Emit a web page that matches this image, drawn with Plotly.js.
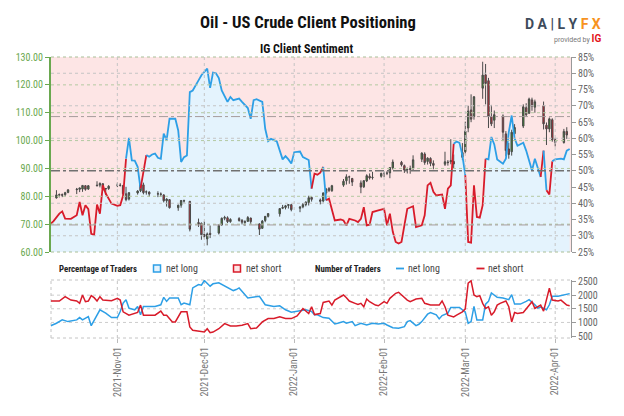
<!DOCTYPE html>
<html><head><meta charset="utf-8">
<script src="https://cdn.plot.ly/plotly-3.0.1.min.js"></script>
<style>html,body{margin:0;padding:0;background:#fff}#chart{width:624px;height:416px}</style>
</head><body><div id="chart"></div>
<script>
// ---------- DATA ----------
const candleDates = [
'2021-10-11','2021-10-12','2021-10-13','2021-10-14','2021-10-15',
'2021-10-18','2021-10-19','2021-10-20','2021-10-21','2021-10-22',
'2021-10-25','2021-10-26','2021-10-27','2021-10-28','2021-10-29',
'2021-11-01','2021-11-02','2021-11-03','2021-11-04','2021-11-05',
'2021-11-08','2021-11-09','2021-11-10','2021-11-11','2021-11-12',
'2021-11-15','2021-11-16','2021-11-17','2021-11-18','2021-11-19',
'2021-11-22','2021-11-23','2021-11-24','2021-11-26',
'2021-11-29','2021-11-30','2021-12-01','2021-12-02','2021-12-03',
'2021-12-06','2021-12-07','2021-12-08','2021-12-09','2021-12-10',
'2021-12-13','2021-12-14','2021-12-15','2021-12-16','2021-12-17',
'2021-12-20','2021-12-21','2021-12-22','2021-12-23',
'2021-12-27','2021-12-28','2021-12-29','2021-12-30','2021-12-31',
'2022-01-03','2022-01-04','2022-01-05','2022-01-06','2022-01-07',
'2022-01-10','2022-01-11','2022-01-12','2022-01-13','2022-01-14',
'2022-01-18','2022-01-19','2022-01-20','2022-01-21',
'2022-01-24','2022-01-25','2022-01-26','2022-01-27','2022-01-28',
'2022-01-31','2022-02-01','2022-02-02','2022-02-03','2022-02-04',
'2022-02-07','2022-02-08','2022-02-09','2022-02-10','2022-02-11',
'2022-02-14','2022-02-15','2022-02-16','2022-02-17','2022-02-18',
'2022-02-22','2022-02-23','2022-02-24','2022-02-25',
'2022-02-28','2022-03-01','2022-03-02','2022-03-03','2022-03-04',
'2022-03-07','2022-03-08','2022-03-09','2022-03-10','2022-03-11',
'2022-03-14','2022-03-15','2022-03-16','2022-03-17','2022-03-18',
'2022-03-21','2022-03-22','2022-03-23','2022-03-24','2022-03-25',
'2022-03-28','2022-03-29','2022-03-30','2022-03-31','2022-04-01',
'2022-04-04','2022-04-05'];
const candleOpen = [
79.4,80.4,80.6,80.6,81.4, 82.6,82.5,82.6,83.8,82.6, 84.0,84.0,84.5,82.6,82.8,
84.0,84.0,83.9,80.9,79.0, 81.2,82.0,84.1,81.5,81.5, 80.8,80.7,80.5,78.4,78.8, 75.9,76.8,78.3,78.2,
70.6,70.3,66.3,64.7,66.7, 66.8,69.7,72.1,72.3,70.9, 72.0,71.4,70.6,71.0,72.2, 70.1,68.5,71.3,72.8, 73.7,75.7,76.0,76.7,77.0,
75.7,76.2,77.0,77.7,79.6, 78.7,78.3,81.2,82.8,82.0, 84.0,85.6,87.0,86.4, 84.8,83.4,85.5,87.2,86.7,
87.2,88.2,88.3,88.4,90.2, 92.2,91.0,89.5,89.6,90.0, 93.3,95.2,92.5,93.6,91.8, 91.5,92.3,92.4,92.5,
94.0,96.0,104.5,111.0,108.6, 118.8,123.6,121.5,108.6,107.3, 108.8,102.4,97.0,96.0,102.5, 105.2,111.8,109.8,114.6,112.0, 112.5,105.5,104.2,107.5,100.3,
99.3,103.3];
const candleHigh = [
82.2,81.0,81.0,81.6,82.6, 83.0,83.1,83.9,84.0,84.0, 85.4,85.0,84.7,83.0,84.0,
84.9,84.7,84.0,83.4,81.5, 82.2,84.4,84.9,82.1,81.8, 81.8,81.4,80.7,79.3,79.0, 77.0,78.6,78.8,78.3,
72.0,70.6,71.0,67.0,69.5, 70.0,72.4,73.0,72.8,72.1, 72.5,71.8,71.4,72.9,72.3, 70.3,71.5,72.8,73.9, 75.8,76.9,76.9,77.1,77.1,
76.5,77.6,78.2,80.2,80.0, 79.2,81.4,83.0,83.3,84.1, 86.2,87.9,87.4,86.6, 85.7,85.8,87.9,88.2,88.8,
88.5,88.9,89.0,90.4,93.2, 92.7,91.4,90.3,91.0,94.7, 95.8,95.8,94.0,94.0,92.9, 96.0,93.0,100.5,95.0,
99.1,106.8,112.5,116.6,116.0, 128.3,127.5,122.5,112.8,110.8, 109.4,103.4,99.2,103.9,105.9, 113.0,113.4,115.4,115.4,114.7, 114.0,106.5,108.3,108.0,101.0,
104.2,104.8];
const candleLow = [
79.2,79.6,79.7,80.0,81.1, 80.8,81.5,81.6,82.0,82.3, 83.6,83.2,82.0,80.5,82.3,
83.3,83.5,80.1,78.2,78.5, 80.6,81.5,80.7,80.6,79.8, 79.7,79.8,77.8,76.3,75.6, 74.8,75.9,77.7,67.4,
69.0,64.4,64.9,62.4,65.0, 66.3,69.4,71.4,70.4,70.5, 70.9,69.9,69.4,70.9,70.1, 66.1,68.3,70.7,72.4, 72.7,75.4,75.3,75.6,74.6,
74.3,75.7,76.4,76.7,78.1, 77.1,77.8,80.6,81.5,81.6, 83.4,84.2,84.5,83.7, 81.1,83.0,85.1,86.0,86.0,
86.7,86.9,87.6,86.5,89.6, 90.7,88.4,88.2,88.1,89.4, 92.3,91.3,91.4,90.8,89.7, 90.9,91.0,91.5,90.1,
93.0,95.3,103.0,106.6,107.5, 115.0,113.0,104.5,105.2,104.5, 99.8,94.4,93.5,94.6,101.8, 104.5,108.6,109.6,110.7,110.0, 104.0,98.4,103.0,99.6,97.9,
98.9,100.6];
const candleClose = [
80.5,80.6,80.4,81.3,82.3, 82.4,83.0,83.9,82.5,83.8, 83.8,84.6,82.7,82.8,83.6,
84.0,83.9,80.9,78.8,81.3, 81.9,84.2,81.3,81.6,80.8, 80.9,80.8,78.4,79.0,75.9, 76.8,78.5,78.4,68.2,
70.0,66.2,65.6,66.5,66.3, 69.5,72.1,72.4,70.9,71.7, 71.3,70.7,70.9,72.4,70.9, 68.2,71.1,72.8,73.8, 75.6,76.0,76.6,77.0,75.2,
76.1,77.0,77.9,79.5,78.9, 78.2,81.2,82.6,82.1,83.8, 85.4,87.0,86.9,85.1, 83.3,85.6,87.4,86.6,86.8,
88.2,88.2,88.3,90.3,92.3, 91.3,89.4,89.7,89.9,93.1, 95.5,92.1,93.7,91.8,91.1, 92.4,92.1,92.8,91.6,
95.7,103.4,110.6,107.7,115.7, 123.5,120.5,108.7,106.0,109.3, 103.0,96.4,95.0,103.0,104.7, 112.1,109.3,114.9,112.3,113.9, 106.0,104.2,107.8,100.3,99.3,
103.3,102.0];

// % of clients net long
const sentDates = [
'2021-10-09','2021-10-10','2021-10-12','2021-10-13','2021-10-14','2021-10-16','2021-10-18','2021-10-19','2021-10-20','2021-10-21',
'2021-10-22','2021-10-23','2021-10-24','2021-10-25','2021-10-26','2021-10-27','2021-10-28','2021-10-30','2021-11-01','2021-11-02',
'2021-11-03','2021-11-04','2021-11-05','2021-11-06','2021-11-07','2021-11-08','2021-11-09','2021-11-11','2021-11-12','2021-11-13',
'2021-11-14','2021-11-15','2021-11-16','2021-11-17','2021-11-18','2021-11-19','2021-11-21','2021-11-22','2021-11-23','2021-11-24',
'2021-11-25','2021-11-26','2021-11-27','2021-11-29','2021-11-30','2021-12-02','2021-12-03','2021-12-04','2021-12-05','2021-12-06',
'2021-12-07','2021-12-09','2021-12-10','2021-12-11','2021-12-13','2021-12-14','2021-12-16','2021-12-17','2021-12-18','2021-12-19',
'2021-12-21','2021-12-22','2021-12-23','2021-12-24','2021-12-26','2021-12-28','2021-12-29','2021-12-30','2021-12-31','2022-01-01',
'2022-01-03','2022-01-04','2022-01-06','2022-01-07','2022-01-08','2022-01-09','2022-01-10','2022-01-11','2022-01-12','2022-01-13',
'2022-01-15','2022-01-17','2022-01-18','2022-01-19','2022-01-20','2022-01-22','2022-01-23','2022-01-24','2022-01-25','2022-01-26',
'2022-01-27','2022-01-28','2022-01-30','2022-02-01','2022-02-02','2022-02-03','2022-02-04','2022-02-05','2022-02-06','2022-02-07',
'2022-02-09','2022-02-11','2022-02-12','2022-02-14','2022-02-15','2022-02-16','2022-02-17','2022-02-18','2022-02-19','2022-02-21',
'2022-02-22','2022-02-23','2022-02-24','2022-02-25','2022-02-26','2022-02-27','2022-02-28','2022-03-01','2022-03-02','2022-03-03',
'2022-03-04','2022-03-05','2022-03-06','2022-03-07','2022-03-08','2022-03-09','2022-03-10','2022-03-11','2022-03-12','2022-03-13',
'2022-03-14','2022-03-15','2022-03-16','2022-03-17','2022-03-18','2022-03-19','2022-03-21','2022-03-22','2022-03-24','2022-03-25',
'2022-03-26','2022-03-27','2022-03-28','2022-03-29','2022-03-30','2022-03-31','2022-04-01','2022-04-03','2022-04-04','2022-04-05',
'2022-04-06'];
const sentLong = [
33.7,34.5,36.8,37.5,35.3,35.2,36.3,40.4,36.3,39.4,
38.2,30.6,30.3,39.6,36.8,45.5,43.0,39.9,39.2,39.4,
42.4,53.7,60.1,53.2,53.1,51.2,44.5,54.8,54.3,55.0,
55.3,54.0,53.7,61.4,59.4,66.0,66.0,62.4,52.7,54.2,
54.7,74.2,74.7,77.8,79.4,81.4,75.5,80.2,80.0,78.5,
74.7,71.2,72.7,71.7,72.2,71.2,69.3,66.0,71.7,72.0,
71.2,62.9,59.1,59.8,59.0,53.5,54.5,53.5,52.2,55.7,
55.9,54.2,53.3,44.5,49.1,48.8,49.4,51.2,40.9,41.4,
34.7,35.0,34.7,33.2,35.2,34.7,34.2,35.2,38.8,33.2,
33.4,37.3,37.8,38.3,33.2,36.8,31.2,28.1,27.6,28.1,
38.3,39.1,32.7,33.2,36.3,45.5,46.3,43.5,42.4,42.7,
38.3,44.5,45.5,58.3,59.0,58.6,54.8,48.6,28.1,27.9,
45.5,35.8,35.6,39.4,53.7,53.5,60.4,58.1,53.5,52.9,
52.2,53.7,61.9,67.0,60.0,57.7,58.6,56.2,50.1,53.7,
50.6,48.1,56.2,44.0,42.7,52.9,53.5,53.7,53.5,56.2,
56.7];

// number of traders
const longDates = [
'2021-10-09','2021-10-11','2021-10-13','2021-10-15','2021-10-18','2021-10-19','2021-10-20','2021-10-22','2021-10-23','2021-10-24',
'2021-10-26','2021-10-28','2021-10-30','2021-11-01','2021-11-02','2021-11-03','2021-11-04','2021-11-05','2021-11-07','2021-11-08',
'2021-11-09','2021-11-10','2021-11-14','2021-11-16','2021-11-17','2021-11-18','2021-11-19','2021-11-22','2021-11-23','2021-11-24',
'2021-11-26','2021-11-27','2021-11-29','2021-11-30','2021-12-01','2021-12-03','2021-12-04','2021-12-06','2021-12-08','2021-12-11',
'2021-12-12','2021-12-13','2021-12-16','2021-12-19','2021-12-20','2021-12-22','2021-12-25','2021-12-27','2021-12-29','2021-12-31',
'2022-01-03','2022-01-05','2022-01-07','2022-01-08','2022-01-09','2022-01-11','2022-01-13','2022-01-15','2022-01-16','2022-01-18',
'2022-01-19','2022-01-21','2022-01-22','2022-01-24','2022-01-26','2022-01-28','2022-01-30','2022-02-01','2022-02-02','2022-02-04',
'2022-02-06','2022-02-08','2022-02-09','2022-02-10','2022-02-12','2022-02-13','2022-02-14','2022-02-16','2022-02-17','2022-02-19',
'2022-02-20','2022-02-21','2022-02-23','2022-02-24','2022-02-27','2022-03-01','2022-03-02','2022-03-03','2022-03-04','2022-03-05',
'2022-03-07','2022-03-08','2022-03-09','2022-03-10','2022-03-12','2022-03-14','2022-03-16','2022-03-17','2022-03-18','2022-03-20',
'2022-03-22','2022-03-23','2022-03-25','2022-03-26','2022-03-27','2022-03-29','2022-03-30','2022-03-31','2022-04-02','2022-04-04',
'2022-04-06'];
const longCount = [
880,970,1093,1031,1093,1178,1093,1216,882,1093,
1463,1340,1178,1178,1401,1710,1833,1525,1463,1586,
1278,1586,1586,1648,1920,1772,1895,1895,1648,1710,
1648,2266,2390,2365,2537,2328,2415,2452,2328,2168,
2205,2266,1895,1932,1957,1648,1586,1611,1463,1377,
1426,1463,1401,1278,1278,1178,1154,944,970,1031,
970,1031,882,970,907,970,944,970,907,808,
784,845,1031,1068,882,932,1031,1303,1364,1278,
1130,1253,1340,1549,1549,1377,970,1031,1586,1093,
1093,1672,1772,2081,1920,1895,1833,2020,1672,1672,
1772,1833,1648,1525,1561,1463,1648,1957,1957,2020,
2056];
const shortDates = [
'2021-10-09','2021-10-12','2021-10-14','2021-10-16','2021-10-18','2021-10-19','2021-10-20','2021-10-21','2021-10-22','2021-10-23',
'2021-10-24','2021-10-25','2021-10-26','2021-10-27','2021-10-30','2021-11-01','2021-11-02','2021-11-03','2021-11-05','2021-11-06',
'2021-11-08','2021-11-09','2021-11-10','2021-11-12','2021-11-14','2021-11-16','2021-11-17','2021-11-18','2021-11-20','2021-11-21',
'2021-11-23','2021-11-25','2021-11-26','2021-11-27','2021-11-30','2021-12-01','2021-12-02','2021-12-03','2021-12-04','2021-12-06',
'2021-12-08','2021-12-10','2021-12-12','2021-12-14','2021-12-16','2021-12-17','2021-12-19','2021-12-21','2021-12-23','2021-12-25',
'2021-12-27','2021-12-29','2021-12-31','2022-01-02','2022-01-04','2022-01-06','2022-01-07','2022-01-08','2022-01-10','2022-01-11',
'2022-01-13','2022-01-14','2022-01-15','2022-01-16','2022-01-18','2022-01-19','2022-01-20','2022-01-22','2022-01-23','2022-01-24',
'2022-01-25','2022-01-26','2022-01-27','2022-01-29','2022-01-30','2022-02-01','2022-02-02','2022-02-03','2022-02-05','2022-02-06',
'2022-02-07','2022-02-09','2022-02-10','2022-02-12','2022-02-14','2022-02-15','2022-02-17','2022-02-20','2022-02-21','2022-02-22',
'2022-02-23','2022-02-25','2022-02-26','2022-02-28','2022-03-01','2022-03-02','2022-03-03','2022-03-04','2022-03-05','2022-03-06',
'2022-03-07','2022-03-08','2022-03-09','2022-03-10','2022-03-11','2022-03-12','2022-03-13','2022-03-15','2022-03-16','2022-03-17',
'2022-03-18','2022-03-19','2022-03-21','2022-03-22','2022-03-24','2022-03-25','2022-03-26','2022-03-27','2022-03-28','2022-03-29',
'2022-03-30','2022-03-31','2022-04-02','2022-04-03','2022-04-05','2022-04-06'];
const shortCount = [
1785,1785,1944,1820,1785,1700,2006,1760,1785,1983,
1908,1785,1944,1820,1797,1883,1820,1389,1265,1290,
1364,1636,1265,1265,1265,1414,1265,1265,1018,1018,
1389,1389,833,710,673,648,770,622,648,770,
957,870,870,895,957,770,795,1018,1142,1142,
1204,1142,1142,1240,1512,1327,1574,1290,1327,1734,
1785,1636,1820,1883,2006,1908,1785,1700,1660,1700,
1574,1858,1760,1636,1611,1760,1700,1883,2068,2105,
2006,1820,1760,1858,1883,1700,1636,1636,1785,1574,
1265,1204,1265,1389,1500,2440,2526,2006,1944,1983,
1700,1512,1574,1265,1389,1636,1700,1785,1574,1018,
1364,1327,1364,1488,1760,1512,1574,1636,1414,1820,
2253,1820,1785,1820,1636,1611];

const priceTicks = [60,70,80,90,100,110,120,130];
const pctTicks = [25,30,35,40,45,50,55,60,65,70,75,80,85];
const countTicks = [500,1000,1500,2000,2500];
const monthTicks = ['2021-11-01','2021-12-01','2022-01-01','2022-02-01','2022-03-01','2022-04-01'];

// ---------- STYLE ----------
const BLUE = '#2d9fe6', RED = '#d81b2a', GREEN = '#6aa84f';
const FONT = "'Liberation Sans Narrow','Roboto Condensed','Arial Narrow',Roboto,sans-serif";
const xRange = ['2021-10-09 03:00','2022-04-06 11:00'];

const traces = [];
traces.push({type:'scatter', mode:'lines', x:sentDates, y:sentLong, xaxis:'x', yaxis:'y',
  fill:'tozeroy', fillcolor:'#e4f3fd', line:{width:0, color:'rgba(0,0,0,0)'}, hoverinfo:'skip', showlegend:false});
traces.push({type:'candlestick', x:candleDates, open:candleOpen, high:candleHigh, low:candleLow, close:candleClose,
  xaxis:'x', yaxis:'y2', whiskerwidth:0,
  increasing:{line:{color:'#4a4a4a', width:1}, fillcolor:'#3c8a2c'},
  decreasing:{line:{color:'#4a4a4a', width:1}, fillcolor:'#d41f2b'},
  hoverinfo:'skip', showlegend:false});
let cur = null; const runs = [];
for (let i = 0; i < sentLong.length - 1; i++) {
  const col = sentLong[i] >= 50 ? BLUE : RED;
  if (!cur || cur.col !== col) { cur = {col, x:[sentDates[i]], y:[sentLong[i]]}; runs.push(cur); }
  cur.x.push(sentDates[i+1]); cur.y.push(sentLong[i+1]);
}
runs.forEach(r => traces.push({type:'scatter', mode:'lines', x:r.x, y:r.y, xaxis:'x', yaxis:'y4',
  line:{color:r.col, width:1.8}, hoverinfo:'skip', showlegend:false}));
traces.push({type:'scatter', mode:'lines', x:longDates, y:longCount, xaxis:'x2', yaxis:'y3',
  line:{color:BLUE, width:1.5}, hoverinfo:'skip', showlegend:false});
traces.push({type:'scatter', mode:'lines', x:shortDates, y:shortCount, xaxis:'x2', yaxis:'y3',
  line:{color:RED, width:1.5}, hoverinfo:'skip', showlegend:false});

// ---------- SHAPES ----------
const shapes = [];
shapes.push({type:'rect', xref:'x domain', yref:'y domain', x0:0, x1:1, y0:0, y1:1,
  fillcolor:'#fde5e5', line:{width:0}, layer:'below'});
priceTicks.filter(v => v > 60 && v < 130).forEach(v => shapes.push({type:'line', xref:'x domain', yref:'y2',
  x0:0, x1:1, y0:v, y1:v, line:{color:'#b4c9a2', width:1, dash:'dot'}, layer:'above'}));
[30,40,60,70,80].forEach(v => shapes.push({type:'line', xref:'x domain', yref:'y',
  x0:0, x1:1, y0:v, y1:v, line:{color:'#c4c4c4', width:1, dash:'dot'}, layer:'above'}));
[[33.33,'#a79c9c',1],[66.67,'#a79c9c',1],[50,'#707070',1.3]].forEach(d => shapes.push({type:'line', xref:'x domain', yref:'y',
  x0:0, x1:1, y0:d[0], y1:d[0], line:{color:d[1], width:d[2], dash:'dashdot'}, layer:'above'}));
[0,1].forEach(v => shapes.push({type:'line', xref:'x domain', yref:'y domain', x0:0, x1:1, y0:v, y1:v,
  line:{color:'#a9bf98', width:1, dash:'dot'}, layer:'above'}));
monthTicks.forEach(m => {
  shapes.push({type:'line', xref:'x', yref:'y domain', x0:m, x1:m, y0:0, y1:1, line:{color:'#c4c4c4', width:1, dash:'dot'}, layer:'above'});
  shapes.push({type:'line', xref:'x2', yref:'y3 domain', x0:m, x1:m, y0:0, y1:1, line:{color:'#c4c4c4', width:1, dash:'dot'}, layer:'below'});
});
[1000,1500,2000].forEach(v => shapes.push({type:'line', xref:'x2 domain', yref:'y3', x0:0, x1:1, y0:v, y1:v,
  line:{color:'#cccccc', width:1, dash:'dot'}, layer:'below'}));
[0,1].forEach(v => shapes.push({type:'line', xref:'x2 domain', yref:'y3 domain', x0:0, x1:1, y0:v, y1:v,
  line:{color:'#c4c4c4', width:1, dash:'dot'}, layer:'below'}));
shapes.push({type:'line', xref:'x2 domain', yref:'y3 domain', x0:0, x1:0, y0:0, y1:1,
  line:{color:'#c4c4c4', width:1, dash:'dot'}, layer:'below'});

const px = X => (X - 51) / 520, py = Y => (338 - Y) / 281;
shapes.push({type:'rect', xref:'paper', yref:'paper', x0:px(153.5), x1:px(160.5), y0:py(272), y1:py(265),
  fillcolor:'#e4f3fd', line:{color:BLUE, width:1.5}});
shapes.push({type:'rect', xref:'paper', yref:'paper', x0:px(233.5), x1:px(240.5), y0:py(272), y1:py(265),
  fillcolor:'#fde5e5', line:{color:RED, width:1.5}});
shapes.push({type:'line', xref:'paper', yref:'paper', x0:px(396), x1:px(404), y0:py(268.5), y1:py(268.5),
  line:{color:BLUE, width:1.8}});
shapes.push({type:'line', xref:'paper', yref:'paper', x0:px(476.5), x1:px(484.5), y0:py(268.5), y1:py(268.5),
  line:{color:RED, width:1.8}});

// ---------- ANNOTATIONS ----------
const ann = (text, X, Y, size, opts={}) => Object.assign({text, xref:'paper', yref:'paper', x:px(X), y:py(Y),
  showarrow:false, xanchor:'left', yanchor:'middle', font:{family:FONT, size, color:'#222'}}, opts);
const annotations = [
  ann('<b>Oil - US Crude Client Positioning</b>', 308, 23, 16.6, {xanchor:'center', font:{family:FONT, size:16.6, color:'#111'}}),
  ann('<b>IG Client Sentiment</b>', 306, 49, 12, {xanchor:'center', font:{family:FONT, size:12, color:'#111'}}),
  ann('<b><span style="color:#3e4b5b">D A | L Y </span><span style="color:#f7931e">F X</span></b>', 603, 24, 14,
      {xanchor:'right', font:{family:"Roboto, sans-serif", size:14, color:'#3e4b5b'}}),
  ann('<span style="font-size:7px;color:#777">provided by </span><b><span style="color:#e3161c">IG</span></b>', 603, 38, 10,
      {xanchor:'right', font:{family:"Roboto, sans-serif", size:10, color:'#777'}}),
  ann('<b>Percentage of Traders</b>', 56.5, 268.5, 8.8),
  ann('net long', 163.5, 268.5, 10, {font:{family:FONT, size:10, color:'#444'}}),
  ann('net short', 243.5, 268.5, 10, {font:{family:FONT, size:10, color:'#444'}}),
  ann('<b>Number of Traders</b>', 312.5, 268.5, 8.8),
  ann('net long', 406, 268.5, 10, {font:{family:FONT, size:10, color:'#444'}}),
  ann('net short', 486, 268.5, 10, {font:{family:FONT, size:10, color:'#444'}})
];

const layout = {
  width:624, height:416, paper_bgcolor:'#fff', plot_bgcolor:'rgba(0,0,0,0)',
  margin:{l:51, r:53, t:57, b:78}, showlegend:false, hovermode:false,
  font:{family:FONT, size:10, color:'#666'},
  xaxis:{type:'date', domain:[0,1], anchor:'y', range:xRange, showticklabels:false, showgrid:false,
    zeroline:false, showline:false, ticks:'', rangeslider:{visible:false}, fixedrange:true},
  xaxis2:{type:'date', domain:[0,1], anchor:'y3', matches:'x', range:xRange, tickvals:monthTicks,
    tickformat:'%Y-%b-%d', tickangle:-90, ticks:'outside', ticklen:4, tickcolor:'#bbbbbb',
    tickfont:{family:FONT, size:10, color:'#777'}, showgrid:false, zeroline:false, showline:false},
  yaxis:{domain:[0.306,1], anchor:'x', side:'right', range:[25,85], tickvals:pctTicks,
    ticktext:pctTicks.map(v => v + '%'), ticks:'outside', ticklen:4, tickcolor:'#999',
    showline:true, linecolor:'#999', linewidth:1, showgrid:false, zeroline:false,
    tickfont:{family:FONT, size:10, color:'#666'}},
  yaxis2:{overlaying:'y', anchor:'x', side:'left', range:[60,130], tickvals:priceTicks,
    tickformat:'.2f', ticks:'outside', ticklen:4, tickcolor:GREEN, showline:true, linecolor:GREEN,
    linewidth:2, showgrid:false, zeroline:false, tickfont:{family:FONT, size:10, color:GREEN}},
  yaxis4:{overlaying:'y', anchor:'x', range:[25,85], visible:false, showgrid:false, zeroline:false},
  yaxis3:{domain:[0,0.2064], anchor:'x2', side:'right', range:[430,2555], tickvals:countTicks,
    ticks:'outside', ticklen:4, tickcolor:'#999', showline:true, linecolor:'#999', linewidth:1,
    showgrid:false, zeroline:false, tickfont:{family:FONT, size:10, color:'#666'}},
  shapes, annotations
};
Plotly.newPlot('chart', traces, layout, {staticPlot:true, displayModeBar:false});
</script></body></html>
